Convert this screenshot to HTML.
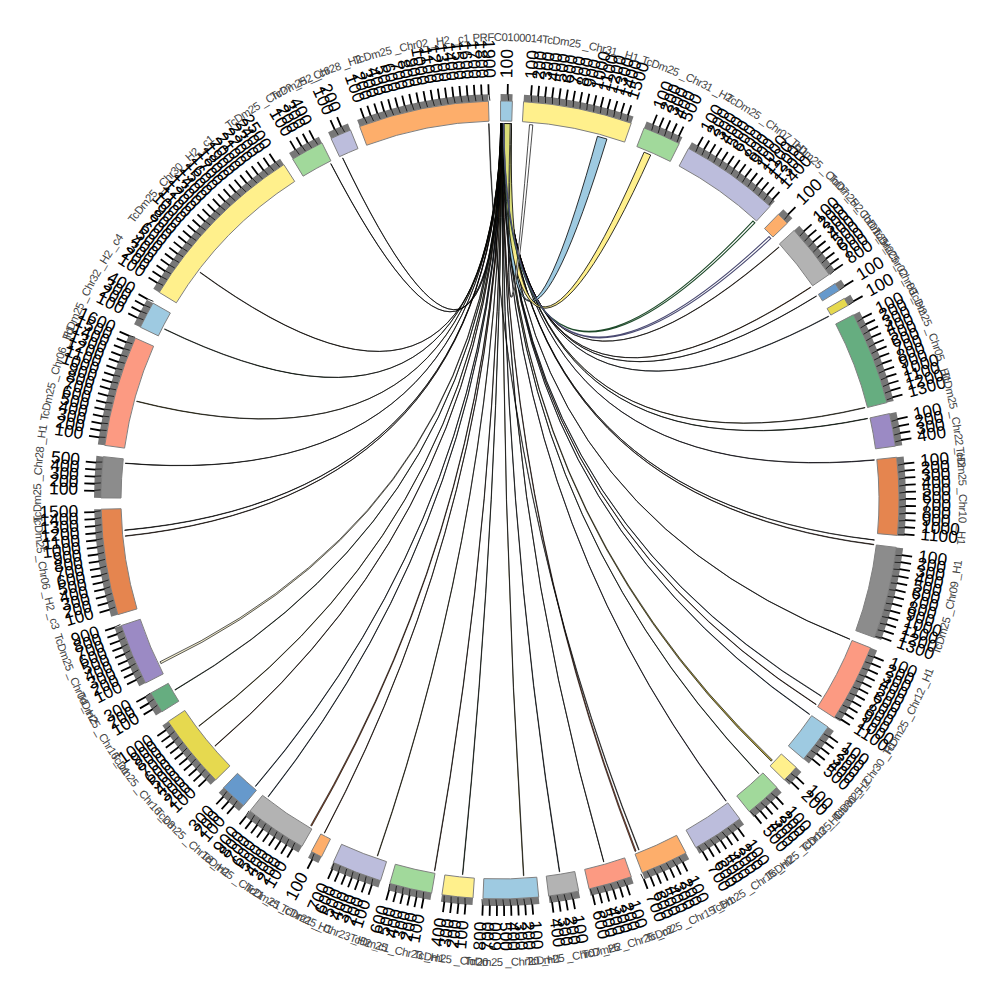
<!DOCTYPE html>
<html><head><meta charset="utf-8"><style>
html,body{margin:0;padding:0;background:#fff;width:1000px;height:1000px;overflow:hidden}
svg{display:block;font-family:"Liberation Sans",sans-serif}
</style></head><body>
<svg width="1000" height="1000" viewBox="0 0 1000 1000">
<g><path d="M500.66,123.5 Q495.15,477.74 342.81,157.88 L342.54,158.01 Q495.17,477.8 500.99,123.5 Z" fill="#222" stroke="#000" stroke-width="0.65"/>
<path d="M500.73,123.5 Q494.99,478.76 330.96,163.58 L330.7,163.71 Q494.99,478.78 501.06,123.5 Z" fill="#222" stroke="#000" stroke-width="0.65"/>
<path d="M500.81,123.5 Q492.89,485.64 200.24,272.2 L199.98,272.54 Q492.9,485.66 501.14,123.5 Z" fill="#6b4a2b" stroke="#000" stroke-width="0.65"/>
<path d="M500.89,123.5 Q492.83,488.26 164.63,328.88 L164.44,329.26 Q492.84,488.28 501.22,123.5 Z" fill="#2e6b3a" stroke="#000" stroke-width="0.65"/>
<path d="M500.97,123.5 Q493.25,491.15 136.73,401.08 L136.62,401.49 Q493.27,491.17 501.3,123.5 Z" fill="#b0a030" stroke="#000" stroke-width="0.65"/>
<path d="M501.05,123.5 Q494.31,493.7 125.31,463.11 L125.28,463.41 Q494.33,493.73 501.37,123.5 Z" fill="#222" stroke="#000" stroke-width="0.65"/>
<path d="M501.12,123.5 Q496.27,496.54 124.7,529.98 L124.73,530.41 Q496.3,496.57 501.45,123.5 Z" fill="#222" stroke="#000" stroke-width="0.65"/>
<path d="M501.2,123.5 Q496.47,496.78 125.21,535.87 L125.25,536.3 Q496.49,496.8 501.53,123.5 Z" fill="#8b4a2b" stroke="#000" stroke-width="0.65"/>
<path d="M501.28,123.5 Q500,500 160.01,661.75 L160.91,663.61 Q500,500 501.61,123.5 Z" fill="#f4efd0" stroke="#000" stroke-width="0.65"/>
<path d="M501.36,123.5 Q500,500 174.82,689.77 L175.04,690.14 Q500,500 501.69,123.5 Z" fill="#2e6b3a" stroke="#000" stroke-width="0.65"/>
<path d="M501.44,123.5 Q500,500 198.79,725.89 L199.05,726.23 Q500,500 501.76,123.5 Z" fill="#b0a030" stroke="#000" stroke-width="0.65"/>
<path d="M501.51,123.5 Q500,500 214.85,745.85 L215.13,746.17 Q500,500 501.84,123.5 Z" fill="#8b4a2b" stroke="#000" stroke-width="0.65"/>
<path d="M501.59,123.5 Q500,500 255.32,786.15 L255.65,786.43 Q500,500 501.92,123.5 Z" fill="#3a6ea5" stroke="#000" stroke-width="0.65"/>
<path d="M501.67,123.5 Q500,500 268.04,796.55 L268.37,796.82 Q500,500 502,123.51 Z" fill="#3a6ea5" stroke="#000" stroke-width="0.65"/>
<path d="M501.75,123.5 Q500,500 310.68,825.44 L311.68,826.02 Q500,500 502.08,123.51 Z" fill="#b05a30" stroke="#000" stroke-width="0.65"/>
<path d="M501.82,123.5 Q500,500 324.22,832.95 L324.59,833.14 Q500,500 502.15,123.51 Z" fill="#b05a30" stroke="#000" stroke-width="0.65"/>
<path d="M501.9,123.5 Q500,500 377.22,855.92 L377.63,856.06 Q500,500 502.23,123.51 Z" fill="#b0a030" stroke="#000" stroke-width="0.65"/>
<path d="M501.98,123.51 Q500,500 434.41,870.74 L434.83,870.82 Q500,500 502.31,123.51 Z" fill="#8b4a2b" stroke="#000" stroke-width="0.65"/>
<path d="M502.06,123.51 Q500,500 462.39,874.62 L462.82,874.66 Q500,500 502.39,123.51 Z" fill="#2e6b3a" stroke="#000" stroke-width="0.65"/>
<path d="M502.14,123.51 Q500,500 523.43,875.77 L523.85,875.74 Q500,500 502.46,123.51 Z" fill="#b0a030" stroke="#000" stroke-width="0.65"/>
<path d="M502.21,123.51 Q500,500 559.3,871.8 L559.79,871.72 Q500,500 502.54,123.51 Z" fill="#1a3a5a" stroke="#000" stroke-width="0.65"/>
<path d="M502.29,123.51 Q500,500 603.64,861.96 L603.92,861.87 Q500,500 502.62,123.51 Z" fill="#222" stroke="#000" stroke-width="0.65"/>
<path d="M502.37,123.51 Q500,500 635,851.46 L636.08,851.05 Q500,500 502.7,123.51 Z" fill="#c06040" stroke="#000" stroke-width="0.65"/>
<path d="M502.45,123.51 Q500,500 725.89,801.21 L726.23,800.95 Q500,500 502.78,123.51 Z" fill="#5a4a8a" stroke="#000" stroke-width="0.65"/>
<path d="M502.52,123.51 Q500,500 758.56,773.68 L758.82,773.43 Q500,500 502.85,123.51 Z" fill="#2e6b3a" stroke="#000" stroke-width="0.65"/>
<path d="M502.6,123.51 Q500,500 771.14,761.22 L772.34,759.96 Q500,500 502.93,123.51 Z" fill="#b0a040" stroke="#000" stroke-width="0.65"/>
<path d="M502.68,123.51 Q500,500 809.42,714.51 L809.66,714.16 Q500,500 503.01,123.51 Z" fill="#3a6ea5" stroke="#000" stroke-width="0.65"/>
<path d="M502.76,123.51 Q500,500 816,704.68 L816.23,704.33 Q500,500 503.09,123.51 Z" fill="#8b4a2b" stroke="#000" stroke-width="0.65"/>
<path d="M502.84,123.51 Q500,500 821.25,696.34 L821.47,695.98 Q500,500 503.16,123.51 Z" fill="#3a6ea5" stroke="#000" stroke-width="0.65"/>
<path d="M502.91,123.51 Q500,500 849.76,639.35 L849.87,639.07 Q500,500 503.24,123.51 Z" fill="#222" stroke="#000" stroke-width="0.65"/>
<path d="M502.99,123.51 Q503.41,497 873.82,544.82 L873.88,544.33 Q503.44,496.97 503.32,123.51 Z" fill="#8b4a2b" stroke="#000" stroke-width="0.65"/>
<path d="M503.07,123.51 Q503.57,496.82 874.35,540.16 L874.38,539.86 Q503.59,496.8 503.4,123.52 Z" fill="#222" stroke="#000" stroke-width="0.65"/>
<path d="M503.15,123.51 Q505.94,493.45 874.39,460.2 L874.35,459.78 Q505.97,493.42 503.48,123.52 Z" fill="#6a5a9a" stroke="#000" stroke-width="0.65"/>
<path d="M503.23,123.51 Q506.71,491.72 867.62,418.72 L867.53,418.3 Q506.72,491.7 503.55,123.52 Z" fill="#2e6b3a" stroke="#000" stroke-width="0.65"/>
<path d="M503.3,123.51 Q506.82,491.32 865.05,407.85 L864.94,407.43 Q506.84,491.3 503.63,123.52 Z" fill="#a89a3a" stroke="#000" stroke-width="0.65"/>
<path d="M503.38,123.52 Q507.33,487.64 828.76,316.51 L828.55,316.13 Q507.34,487.61 503.71,123.52 Z" fill="#3a6ea5" stroke="#000" stroke-width="0.65"/>
<path d="M503.46,123.52 Q507.33,486.71 816.55,296.17 L816.39,295.92 Q507.34,486.69 503.79,123.52 Z" fill="#222" stroke="#000" stroke-width="0.65"/>
<path d="M503.54,123.52 Q507.31,486.29 810.78,287.47 L810.53,287.11 Q507.32,486.27 503.86,123.52 Z" fill="#b06a30" stroke="#000" stroke-width="0.65"/>
<path d="M503.61,123.52 Q507.08,484.25 779.06,247.26 L778.77,246.94 Q507.09,484.22 503.94,123.52 Z" fill="#8b5a2b" stroke="#000" stroke-width="0.65"/>
<path d="M503.94,123.52 Q504.23,471.89 606.93,139 L597.45,136.33 Q504.24,471.19 511.5,123.68 Z" fill="#9ecae1" stroke="#000" stroke-width="0.8"/>
<radialGradient id="yg" gradientUnits="userSpaceOnUse" cx="506" cy="123" r="220"><stop offset="0" stop-color="#d9dc78"/><stop offset="0.5" stop-color="#d9dc78"/><stop offset="0.62" stop-color="#fff08c"/></radialGradient>
<path d="M503.94,123.52 Q505.01,476.62 650.73,154.99 L644.08,152.16 Q505.32,475.22 511.5,123.68 Z" fill="url(#yg)" stroke="#000" stroke-width="0.8"/>
<path d="M529.54,124.66 Q501.61,470.23 511.17,123.67 L510.18,123.64 Q501.7,470.28 532.81,124.93 Z" fill="#ffffff" stroke="#000" stroke-width="0.7"/>
<path d="M503.29,123.51 Q506.77,482.87 754.84,222.86 L752.9,221.09 Q506.75,482.75 503.68,123.52 Z" fill="#ffffff" stroke="#1e4a2a" stroke-width="1.1"/>
<path d="M503.42,123.52 Q506.98,483.77 770.83,238.46 L769,236.58 Q506.97,483.65 503.81,123.52 Z" fill="#ffffff" stroke="#4a4a72" stroke-width="1.1"/>
<path d="M488.5,123.68 Q500,500 638.6,850.06 L639.21,849.82 Q500,500 489.16,123.66 Z" fill="#333" stroke="#000" stroke-width="0.5"/></g>
<g><path d="M500.56,101 A399,399 0 0 1 512.39,101.19 L511.77,121.18 A379,379 0 0 0 500.53,121 Z" fill="#9ecae1" stroke="#808080" stroke-width="1"/>
<path d="M500.57,94 A406,406 0 0 1 512.61,94.2 L512.39,101.19 A399,399 0 0 0 500.56,101 Z" fill="#777777"/>
<path d="M523.59,101.7 A399,399 0 0 1 631.22,123.19 L624.64,142.08 A379,379 0 0 0 522.41,121.66 Z" fill="#fff08c" stroke="#808080" stroke-width="1"/>
<path d="M524.01,94.71 A406,406 0 0 1 633.52,116.58 L631.22,123.19 A399,399 0 0 0 523.59,101.7 Z" fill="#777777"/>
<path d="M644.09,127.93 A399,399 0 0 1 679.28,143.54 L670.29,161.41 A379,379 0 0 0 636.87,146.58 Z" fill="#a1d99b" stroke="#808080" stroke-width="1"/>
<path d="M646.62,121.4 A406,406 0 0 1 682.42,137.29 L679.28,143.54 A399,399 0 0 0 644.09,127.93 Z" fill="#777777"/>
<path d="M688.55,148.36 A399,399 0 0 1 770.07,206.3 L756.54,221.02 A379,379 0 0 0 679.1,165.99 Z" fill="#bcbddc" stroke="#808080" stroke-width="1"/>
<path d="M691.86,142.19 A406,406 0 0 1 774.81,201.14 L770.07,206.3 A399,399 0 0 0 688.55,148.36 Z" fill="#777777"/>
<path d="M778.42,214.2 A399,399 0 0 1 787.35,223.18 L772.95,237.06 A379,379 0 0 0 764.46,228.52 Z" fill="#fdae6b" stroke="#808080" stroke-width="1"/>
<path d="M783.3,209.18 A406,406 0 0 1 792.4,218.33 L787.35,223.18 A399,399 0 0 0 778.42,214.2 Z" fill="#777777"/>
<path d="M794.17,230.44 A399,399 0 0 1 829.14,274.46 L812.64,285.77 A379,379 0 0 0 779.43,243.95 Z" fill="#b3b3b3" stroke="#808080" stroke-width="1"/>
<path d="M799.33,225.71 A406,406 0 0 1 834.92,270.51 L829.14,274.46 A399,399 0 0 0 794.17,230.44 Z" fill="#777777"/>
<path d="M835.16,283.51 A399,399 0 0 1 839.47,290.34 L822.46,300.85 A379,379 0 0 0 818.36,294.36 Z" fill="#6699cc" stroke="#808080" stroke-width="1"/>
<path d="M841.04,279.71 A406,406 0 0 1 845.43,286.66 L839.47,290.34 A399,399 0 0 0 835.16,283.51 Z" fill="#777777"/>
<path d="M844.32,298.39 A399,399 0 0 1 848.3,305.34 L830.84,315.1 A379,379 0 0 0 827.06,308.5 Z" fill="#e6d94f" stroke="#808080" stroke-width="1"/>
<path d="M850.36,294.86 A406,406 0 0 1 854.41,301.93 L848.3,305.34 A399,399 0 0 0 844.32,298.39 Z" fill="#777777"/>
<path d="M853.4,314.77 A399,399 0 0 1 886.93,402.6 L867.53,407.48 A379,379 0 0 0 835.69,324.06 Z" fill="#66ad80" stroke="#808080" stroke-width="1"/>
<path d="M859.6,311.53 A406,406 0 0 1 893.72,400.89 L886.93,402.6 A399,399 0 0 0 853.4,314.77 Z" fill="#777777"/>
<path d="M889.53,413.57 A399,399 0 0 1 895.35,446.13 L875.53,448.83 A379,379 0 0 0 870,417.9 Z" fill="#9b8ac4" stroke="#808080" stroke-width="1"/>
<path d="M896.36,412.06 A406,406 0 0 1 902.28,445.18 L895.35,446.13 A399,399 0 0 0 889.53,413.57 Z" fill="#777777"/>
<path d="M896.7,457.25 A399,399 0 0 1 897.43,535.4 L877.51,533.63 A379,379 0 0 0 876.82,459.4 Z" fill="#e5854f" stroke="#808080" stroke-width="1"/>
<path d="M903.66,456.5 A406,406 0 0 1 904.4,536.02 L897.43,535.4 A399,399 0 0 0 896.7,457.25 Z" fill="#777777"/>
<path d="M896.18,547.38 A399,399 0 0 1 874.55,637.51 L855.78,630.62 A379,379 0 0 0 876.32,545.01 Z" fill="#8c8c8c" stroke="#808080" stroke-width="1"/>
<path d="M903.13,548.21 A406,406 0 0 1 881.13,639.93 L874.55,637.51 A399,399 0 0 0 896.18,547.38 Z" fill="#777777"/>
<path d="M870.6,647.85 A399,399 0 0 1 834.36,717.72 L817.6,706.81 A379,379 0 0 0 852.02,640.44 Z" fill="#fc9a82" stroke="#808080" stroke-width="1"/>
<path d="M877.1,650.45 A406,406 0 0 1 840.23,721.54 L834.36,717.72 A399,399 0 0 0 870.6,647.85 Z" fill="#777777"/>
<path d="M828.11,727.03 A399,399 0 0 1 803.58,758.92 L788.37,745.94 A379,379 0 0 0 811.67,715.65 Z" fill="#9ecae1" stroke="#808080" stroke-width="1"/>
<path d="M833.87,731.01 A406,406 0 0 1 808.91,763.46 L803.58,758.92 A399,399 0 0 0 828.11,727.03 Z" fill="#777777"/>
<path d="M796.19,767.35 A399,399 0 0 1 784.34,779.91 L770.09,765.88 A379,379 0 0 0 781.34,753.94 Z" fill="#fff08c" stroke="#808080" stroke-width="1"/>
<path d="M801.38,772.04 A406,406 0 0 1 789.33,784.82 L784.34,779.91 A399,399 0 0 0 796.19,767.35 Z" fill="#777777"/>
<path d="M776.82,787.35 A399,399 0 0 1 749.25,811.57 L736.76,795.95 A379,379 0 0 0 762.94,772.95 Z" fill="#a1d99b" stroke="#808080" stroke-width="1"/>
<path d="M781.67,792.4 A406,406 0 0 1 753.63,817.03 L749.25,811.57 A399,399 0 0 0 776.82,787.35 Z" fill="#777777"/>
<path d="M739.85,818.86 A399,399 0 0 1 695.87,847.61 L686.05,830.19 A379,379 0 0 0 727.82,802.88 Z" fill="#bcbddc" stroke="#808080" stroke-width="1"/>
<path d="M744.05,824.46 A406,406 0 0 1 699.31,853.71 L695.87,847.61 A399,399 0 0 0 739.85,818.86 Z" fill="#777777"/>
<path d="M685.97,853.01 A399,399 0 0 1 642.21,872.8 L635.08,854.11 A379,379 0 0 0 676.64,835.32 Z" fill="#fdae6b" stroke="#808080" stroke-width="1"/>
<path d="M689.23,859.21 A406,406 0 0 1 644.7,879.34 L642.21,872.8 A399,399 0 0 0 685.97,853.01 Z" fill="#777777"/>
<path d="M631.28,876.78 A399,399 0 0 1 589.14,888.91 L584.68,869.42 A379,379 0 0 0 624.7,857.9 Z" fill="#fc9a82" stroke="#808080" stroke-width="1"/>
<path d="M633.59,883.39 A406,406 0 0 1 590.71,895.74 L589.14,888.91 A399,399 0 0 0 631.28,876.78 Z" fill="#777777"/>
<path d="M578.73,891.16 A399,399 0 0 1 548.69,896.02 L546.25,876.17 A379,379 0 0 0 574.78,871.55 Z" fill="#b3b3b3" stroke="#808080" stroke-width="1"/>
<path d="M580.11,898.02 A406,406 0 0 1 549.55,902.97 L548.69,896.02 A399,399 0 0 0 578.73,891.16 Z" fill="#777777"/>
<path d="M538.73,897.12 A399,399 0 0 1 482.94,898.64 L483.8,878.65 A379,379 0 0 0 536.79,877.21 Z" fill="#9ecae1" stroke="#808080" stroke-width="1"/>
<path d="M539.41,904.08 A406,406 0 0 1 482.64,905.63 L482.94,898.64 A399,399 0 0 0 538.73,897.12 Z" fill="#777777"/>
<path d="M473,898.09 A399,399 0 0 1 441.92,894.75 L444.83,874.96 A379,379 0 0 0 474.35,878.13 Z" fill="#fff08c" stroke="#808080" stroke-width="1"/>
<path d="M472.53,905.07 A406,406 0 0 1 440.9,901.68 L441.92,894.75 A399,399 0 0 0 473,898.09 Z" fill="#777777"/>
<path d="M431.61,893.09 A399,399 0 0 1 389.82,883.49 L395.34,864.26 A379,379 0 0 0 435.03,873.39 Z" fill="#a1d99b" stroke="#808080" stroke-width="1"/>
<path d="M430.41,899.99 A406,406 0 0 1 387.89,890.21 L389.82,883.49 A399,399 0 0 0 431.61,893.09 Z" fill="#777777"/>
<path d="M380.55,880.7 A399,399 0 0 1 333.21,862.47 L341.57,844.3 A379,379 0 0 0 386.54,861.62 Z" fill="#bcbddc" stroke="#808080" stroke-width="1"/>
<path d="M378.45,887.38 A406,406 0 0 1 330.28,868.82 L333.21,862.47 A399,399 0 0 0 380.55,880.7 Z" fill="#777777"/>
<path d="M321.53,856.86 A399,399 0 0 1 311.33,851.57 L320.79,833.95 A379,379 0 0 0 330.48,838.97 Z" fill="#fdae6b" stroke="#808080" stroke-width="1"/>
<path d="M318.4,863.12 A406,406 0 0 1 308.02,857.74 L311.33,851.57 A399,399 0 0 0 321.53,856.86 Z" fill="#777777"/>
<path d="M301.95,846.38 A399,399 0 0 1 249.99,810.96 L262.52,795.37 A379,379 0 0 0 311.88,829.01 Z" fill="#b3b3b3" stroke="#808080" stroke-width="1"/>
<path d="M298.47,852.45 A406,406 0 0 1 245.6,816.41 L249.99,810.96 A399,399 0 0 0 301.95,846.38 Z" fill="#777777"/>
<path d="M243.53,805.65 A399,399 0 0 1 223.58,787.74 L237.44,773.32 A379,379 0 0 0 256.38,790.33 Z" fill="#6699cc" stroke="#808080" stroke-width="1"/>
<path d="M239.03,811.01 A406,406 0 0 1 218.73,792.79 L223.58,787.74 A399,399 0 0 0 243.53,805.65 Z" fill="#777777"/>
<path d="M215.66,779.91 A399,399 0 0 1 168.17,721.56 L184.8,710.45 A379,379 0 0 0 229.91,765.88 Z" fill="#e6d94f" stroke="#808080" stroke-width="1"/>
<path d="M210.67,784.82 A406,406 0 0 1 162.34,725.44 L168.17,721.56 A399,399 0 0 0 215.66,779.91 Z" fill="#777777"/>
<path d="M161.85,711.79 A399,399 0 0 1 150.79,693.01 L168.29,683.34 A379,379 0 0 0 178.8,701.18 Z" fill="#66ad80" stroke="#808080" stroke-width="1"/>
<path d="M155.92,715.51 A406,406 0 0 1 144.66,696.4 L150.79,693.01 A399,399 0 0 0 161.85,711.79 Z" fill="#777777"/>
<path d="M145.47,683.06 A399,399 0 0 1 121.27,625.55 L140.25,619.25 A379,379 0 0 0 163.24,673.89 Z" fill="#9b8ac4" stroke="#808080" stroke-width="1"/>
<path d="M139.25,686.27 A406,406 0 0 1 114.62,627.75 L121.27,625.55 A399,399 0 0 0 145.47,683.06 Z" fill="#777777"/>
<path d="M117.83,614.66 A399,399 0 0 1 101.11,509.19 L121.1,508.73 A379,379 0 0 0 136.99,608.91 Z" fill="#e5854f" stroke="#808080" stroke-width="1"/>
<path d="M111.12,616.67 A406,406 0 0 1 94.11,509.35 L101.11,509.19 A399,399 0 0 0 117.83,614.66 Z" fill="#777777"/>
<path d="M101.01,497.91 A399,399 0 0 1 103.36,456.63 L123.25,458.81 A379,379 0 0 0 121.01,498.02 Z" fill="#8c8c8c" stroke="#808080" stroke-width="1"/>
<path d="M94.01,497.87 A406,406 0 0 1 96.41,455.87 L103.36,456.63 A399,399 0 0 0 101.01,497.91 Z" fill="#777777"/>
<path d="M104.76,445.37 A399,399 0 0 1 135.33,338.09 L153.61,346.21 A379,379 0 0 0 124.57,448.11 Z" fill="#fc9a82" stroke="#808080" stroke-width="1"/>
<path d="M97.82,444.41 A406,406 0 0 1 128.93,335.25 L135.33,338.09 A399,399 0 0 0 104.76,445.37 Z" fill="#777777"/>
<path d="M140.35,327.22 A399,399 0 0 1 152.97,303.1 L170.36,312.97 A379,379 0 0 0 158.38,335.88 Z" fill="#9ecae1" stroke="#808080" stroke-width="1"/>
<path d="M134.04,324.19 A406,406 0 0 1 146.88,299.64 L152.97,303.1 A399,399 0 0 0 140.35,327.22 Z" fill="#777777"/>
<path d="M159.25,292.41 A399,399 0 0 1 283.86,164.61 L294.69,181.43 A379,379 0 0 0 176.33,302.82 Z" fill="#fff08c" stroke="#808080" stroke-width="1"/>
<path d="M153.27,288.77 A406,406 0 0 1 280.07,158.73 L283.86,164.61 A399,399 0 0 0 159.25,292.41 Z" fill="#777777"/>
<path d="M292.71,159.07 A399,399 0 0 1 321.97,142.92 L330.89,160.82 A379,379 0 0 0 303.1,176.16 Z" fill="#a1d99b" stroke="#808080" stroke-width="1"/>
<path d="M289.08,153.09 A406,406 0 0 1 318.84,136.66 L321.97,142.92 A399,399 0 0 0 292.71,159.07 Z" fill="#777777"/>
<path d="M331.06,138.53 A399,399 0 0 1 350.53,130.05 L358.02,148.6 A379,379 0 0 0 339.53,156.65 Z" fill="#bcbddc" stroke="#808080" stroke-width="1"/>
<path d="M328.1,132.19 A406,406 0 0 1 347.91,123.56 L350.53,130.05 A399,399 0 0 0 331.06,138.53 Z" fill="#777777"/>
<path d="M359.62,126.51 A399,399 0 0 1 488.44,101.17 L489.02,121.16 A379,379 0 0 0 366.65,145.23 Z" fill="#fdae6b" stroke="#808080" stroke-width="1"/>
<path d="M357.15,119.96 A406,406 0 0 1 488.24,94.17 L488.44,101.17 A399,399 0 0 0 359.62,126.51 Z" fill="#777777"/></g>
<path d="M507.64,94.57L507.84,84.07M531.04,95.69L531.84,85.22M538.09,96.29L539.08,85.84M545.13,97.02L546.3,86.58M552.16,97.87L553.51,87.46M559.17,98.84L560.7,88.45M566.16,99.93L567.87,89.57M573.13,101.15L575.02,90.82M580.08,102.49L582.15,92.19M587.01,103.94L589.26,93.69M593.9,105.52L596.34,95.31M600.78,107.22L603.38,97.05M607.61,109.04L610.4,98.92M614.42,110.98L617.38,100.9M621.19,113.03L624.33,103.01M627.93,115.21L631.24,105.24M653.02,124.48L656.98,114.76M659.55,127.21L663.68,117.55M666.03,130.05L670.33,120.47M672.46,133L676.93,123.5M678.84,136.07L683.47,126.64M697.83,146.03L702.95,136.86M703.97,149.54L709.26,140.46M710.06,153.15L715.5,144.17M716.08,156.87L721.68,147.98M722.04,160.69L727.79,151.91M727.92,164.62L733.83,155.93M733.74,168.65L739.8,160.07M739.49,172.78L745.69,164.3M745.16,177.01L751.51,168.64M750.76,181.34L757.26,173.08M756.29,185.76L762.92,177.62M761.73,190.28L768.51,182.26M767.1,194.9L774.01,187M772.38,199.6L779.44,191.83M787.98,214.52L795.44,207.13M803.7,231.31L811.57,224.35M808.34,236.65L816.33,229.83M812.89,242.07L821,235.39M817.35,247.57L825.56,241.03M821.7,253.15L830.03,246.76M825.96,258.8L834.4,252.55M830.12,264.52L838.67,258.43M834.18,270.32L842.84,264.38M844.41,285.96L853.33,280.42M853.45,301.25L862.6,296.1M862.39,318.05L871.77,313.34M865.51,324.41L874.97,319.86M868.52,330.81L878.06,326.43M871.41,337.27L881.03,333.06M874.2,343.78L883.89,339.73M876.87,350.33L886.63,346.46M879.42,356.93L889.25,353.23M881.86,363.57L891.75,360.04M884.18,370.26L894.13,366.9M886.39,376.98L896.4,373.8M888.48,383.75L898.54,380.74M890.45,390.54L900.56,387.71M892.3,397.38L902.46,394.72M897.35,419.09L907.63,416.99M898.7,426.03L909.02,424.12M899.93,433L910.28,431.27M901.04,439.99L911.42,438.44M903.86,463.6L914.32,462.66M904.44,470.65L914.91,469.89M904.89,477.72L915.37,477.14M905.21,484.79L915.71,484.39M905.42,491.86L915.92,491.65M905.5,498.94L916,498.91M905.46,506.02L915.95,506.17M905.29,513.09L915.78,513.43M905,520.16L915.49,520.68M904.58,527.23L915.06,527.93M904.05,534.28L914.51,535.17M901.73,555.17L912.13,556.6M900.7,562.18L911.08,563.79M899.56,569.16L909.9,570.95M898.29,576.12L908.6,578.09M896.9,583.06L907.18,585.21M895.39,589.98L905.63,592.31M893.76,596.86L903.96,599.37M892.01,603.72L902.16,606.41M890.14,610.55L900.24,613.41M888.15,617.34L898.2,620.38M886.05,624.09L896.04,627.31M883.82,630.81L893.76,634.2M881.48,637.49L891.36,641.05M873.95,656.81L883.64,660.87M871.16,663.31L880.77,667.54M868.25,669.77L877.79,674.16M865.23,676.17L874.69,680.73M862.1,682.51L871.48,687.24M858.86,688.81L868.15,693.7M855.51,695.04L864.72,700.09M852.05,701.22L861.17,706.43M848.49,707.33L857.51,712.7M844.82,713.38L853.75,718.9M841.04,719.37L849.87,725.05M829.38,736.51L837.91,742.64M825.2,742.22L833.63,748.5M820.93,747.86L829.24,754.28M816.55,753.43L824.75,759.99M812.08,758.91L820.16,765.62M796.23,776.91L803.9,784.08M791.35,782.04L798.89,789.34M776.19,796.9L783.34,804.59M770.96,801.68L777.98,809.49M765.66,806.36L772.54,814.29M760.27,810.95L767.01,819M754.8,815.44L761.4,823.61M738.06,828.26L744.22,836.76M732.3,832.37L738.31,840.98M726.46,836.37L732.32,845.08M720.55,840.27L726.27,849.08M714.58,844.07L720.14,852.98M708.54,847.76L713.94,856.77M702.44,851.35L707.69,860.45M682.7,862.01L687.44,871.38M676.36,865.14L680.93,874.6M669.96,868.16L674.36,877.7M663.51,871.07L667.74,880.68M657.01,873.87L661.07,883.55M650.46,876.55L654.35,886.3M643.86,879.12L647.59,888.94M626.72,885.19L630,895.17M619.98,887.34L623.08,897.37M613.2,889.38L616.13,899.46M606.39,891.3L609.14,901.43M599.54,893.09L602.12,903.27M592.67,894.77L595.06,904.99M573.06,898.86L574.95,909.19M566.09,900.08L567.8,910.44M559.1,901.17L560.63,911.56M552.09,902.14L553.43,912.55M532.31,904.21L533.15,914.68M525.25,904.71L525.9,915.19M518.18,905.09L518.65,915.58M511.11,905.35L511.4,915.84M504.03,905.48L504.14,915.98M496.96,905.49L496.88,915.99M489.88,905.37L489.62,915.87M482.81,905.14L482.36,915.63M465.5,904.03L464.61,914.49M458.46,903.37L457.38,913.81M451.43,902.58L450.17,913M444.41,901.67L442.97,912.07M423.53,898.22L421.55,908.54M416.59,896.83L414.43,907.1M409.68,895.31L407.34,905.55M402.79,893.68L400.28,903.87M395.94,891.92L393.24,902.07M389.11,890.04L386.24,900.14M371.87,884.72L368.55,894.69M365.18,882.43L361.68,892.33M358.52,880.02L354.86,889.86M351.91,877.49L348.08,887.27M345.35,874.85L341.34,884.56M338.83,872.09L334.65,881.73M332.36,869.22L328.02,878.78M312.32,859.45L307.46,868.76M292.61,848.45L287.24,857.48M286.56,844.78L281.03,853.71M280.58,841L274.89,849.83M274.66,837.12L268.82,845.85M268.81,833.14L262.82,841.76M263.03,829.05L256.89,837.57M257.32,824.87L251.04,833.28M251.69,820.58L245.26,828.88M246.13,816.2L239.56,824.39M233.97,806.03L227.08,813.96M228.67,801.35L221.64,809.15M223.45,796.56L216.29,804.24M206.1,779.38L198.49,786.62M201.27,774.21L193.54,781.31M196.53,768.96L188.68,775.92M191.89,763.62L183.91,770.45M187.33,758.2L179.24,764.89M182.87,752.71L174.66,759.25M178.51,747.13L170.19,753.53M174.25,741.49L165.81,747.74M170.08,735.76L161.54,741.87M166.02,729.97L157.37,735.92M152.64,709.21L143.64,714.63M149.04,703.12L139.95,708.38M145.55,696.96L136.37,702.06M136.51,679.73L127.09,684.38M133.42,673.36L123.93,677.85M130.46,666.93L120.89,671.26M127.6,660.46L117.96,664.61M124.85,653.93L115.14,657.92M122.22,647.36L112.44,651.18M119.71,640.75L109.86,644.39M117.31,634.09L107.4,637.56M115.03,627.39L105.06,630.69M109.63,609.73L99.52,612.57M107.77,602.9L97.62,605.56M106.04,596.04L95.84,598.52M104.42,589.15L94.18,591.46M102.93,582.23L92.64,584.36M101.55,575.29L91.23,577.24M100.3,568.32L89.95,570.09M99.17,561.34L88.79,562.92M98.16,554.33L87.75,555.74M97.27,547.31L86.84,548.54M96.5,540.27L86.06,541.32M95.86,533.23L85.4,534.09M95.35,526.17L84.87,526.85M94.95,519.1L84.46,519.6M94.68,512.03L84.18,512.34M94.6,490.8L84.11,490.56M94.83,483.73L84.34,483.31M95.17,476.66L84.69,476.05M95.64,469.6L85.17,468.81M96.23,462.54L85.78,461.57M99.35,437.47L88.98,435.86M100.5,430.49L90.16,428.69M101.78,423.53L91.46,421.55M103.17,416.59L92.9,414.43M104.69,409.68L94.45,407.34M106.32,402.79L96.13,400.28M108.08,395.94L97.93,393.24M109.96,389.11L99.86,386.24M111.95,382.32L101.9,379.28M114.06,375.57L104.07,372.35M116.29,368.85L106.36,365.46M118.64,362.18L108.77,358.61M121.1,355.54L111.29,351.8M123.68,348.95L113.94,345.04M126.38,342.41L116.7,338.33M129.18,335.91L119.58,331.66M137.61,318.05L128.23,313.34M140.84,311.76L131.54,306.88M144.18,305.52L134.97,300.48M147.63,299.34L138.51,294.14M157.44,283.02L148.57,277.4M161.27,277.08L152.5,271.3M165.22,271.2L156.55,265.27M169.26,265.39L160.7,259.32M173.41,259.65L164.95,253.43M177.65,253.99L169.3,247.62M181.99,248.4L173.76,241.89M186.43,242.89L178.31,236.23M190.97,237.46L182.96,230.66M195.6,232.1L187.71,225.17M200.32,226.83L192.56,219.76M205.13,221.64L197.5,214.44M210.03,216.54L202.53,209.2M215.03,211.52L207.65,204.05M220.1,206.59L212.86,198.99M225.27,201.75L218.15,194.03M230.51,197L223.54,189.16M235.84,192.35L229,184.38M241.25,187.78L234.55,179.7M246.74,183.31L240.18,175.11M252.31,178.94L245.89,170.63M257.95,174.67L251.68,166.24M263.66,170.49L257.54,161.96M269.45,166.42L263.48,157.78M275.31,162.45L269.49,153.71M295.41,149.89L290.12,140.83M301.56,146.38L296.42,137.22M307.76,142.97L302.78,133.72M314.02,139.67L309.2,130.34M334.75,129.7L330.47,120.11M341.23,126.87L337.12,117.21M363.97,118L360.45,108.1M370.66,115.68L367.31,105.73M377.39,113.48L374.21,103.47M384.15,111.4L381.15,101.34M390.95,109.44L388.13,99.32M397.79,107.59L395.14,97.43M404.65,105.87L402.18,95.66M411.54,104.27L409.25,94.02M418.46,102.78L416.35,92.5M425.41,101.42L423.48,91.1M432.38,100.18L430.62,89.83M439.36,99.06L437.79,88.68M446.37,98.06L444.98,87.65M453.39,97.19L452.19,86.76M460.43,96.44L459.41,85.99M467.48,95.81L466.64,85.34M474.54,95.3L473.88,84.82M481.61,94.92L481.13,84.43M488.68,94.66L488.38,84.16" stroke="#000" stroke-width="1.8" fill="none"/><path d="M508.58,100.59L508.01,94.08M531.62,101.75L531.43,95.22M538.57,102.37L538.49,95.83M545.5,103.1L545.54,96.56M552.42,103.95L552.57,97.42M559.33,104.93L559.59,98.4M566.21,106.03L566.59,99.5M573.08,107.24L573.57,100.72M579.92,108.58L580.53,102.07M586.74,110.03L587.46,103.53M593.53,111.6L594.37,105.12M600.3,113.29L601.24,106.83M607.03,115.1L608.09,108.65M613.73,117.03L614.9,110.6M620.4,119.07L621.68,112.66M627.03,121.23L628.42,114.85M651.72,130.43L653.53,124.15M658.15,133.14L660.07,126.89M664.53,135.95L666.56,129.74M670.86,138.88L672.99,132.7M677.13,141.92L679.38,135.78M695.81,151.78L698.38,145.77M701.86,155.25L704.53,149.28M707.85,158.82L710.62,152.91M713.77,162.5L716.65,156.63M719.63,166.29L722.61,160.47M725.42,170.17L728.5,164.4M731.14,174.15L734.32,168.44M736.79,178.24L740.07,172.58M742.37,182.42L745.75,176.82M747.88,186.7L751.35,181.16M753.31,191.07L756.88,185.6M758.66,195.54L762.33,190.13M763.93,200.1L767.69,194.75M769.13,204.75L772.98,199.47M784.45,219.49L788.58,214.42M799.9,236.07L804.31,231.24M804.46,241.34L808.95,236.59M808.93,246.69L813.5,242.03M813.3,252.12L817.96,247.54M817.58,257.63L822.32,253.12M821.76,263.21L826.58,258.79M825.85,268.86L830.74,264.52M829.83,274.58L834.8,270.33M839.86,290.01L845.02,286M848.73,305.1L854.06,301.31M857.5,321.68L862.99,318.15M860.55,327.95L866.11,324.51M863.5,334.27L869.12,330.93M866.34,340.64L872.01,337.39M869.06,347.05L874.8,343.91M871.68,353.52L877.46,350.48M874.18,360.03L880.02,357.09M876.56,366.58L882.45,363.74M878.83,373.17L884.77,370.44M880.99,379.8L886.97,377.17M883.03,386.47L889.06,383.94M884.95,393.17L891.02,390.75M886.76,399.91L892.87,397.59M891.67,421.31L897.91,419.33M892.99,428.16L899.25,426.29M894.18,435.03L900.48,433.27M895.25,441.92L901.58,440.27M897.98,465.18L904.39,463.91M898.53,472.13L904.96,470.97M898.95,479.09L905.41,478.04M899.26,486.06L905.73,485.12M899.44,493.03L905.93,492.21M899.5,500L906,499.29M899.44,506.97L905.95,506.38M899.26,513.94L905.78,513.46M898.95,520.91L905.48,520.54M898.53,527.87L905.06,527.61M897.98,534.82L904.52,534.68M895.64,555.39L902.18,555.59M894.61,562.29L901.14,562.6M893.47,569.17L899.99,569.59M892.2,576.02L898.72,576.56M890.81,582.86L897.32,583.51M889.31,589.66L895.8,590.43M887.68,596.44L894.16,597.33M885.94,603.2L892.4,604.19M884.08,609.92L890.53,611.02M882.1,616.6L888.53,617.82M880.01,623.25L886.41,624.58M877.8,629.87L884.18,631.31M875.48,636.44L881.83,637.99M868.01,655.46L874.28,657.33M865.24,661.85L871.47,663.84M862.36,668.2L868.56,670.3M859.37,674.5L865.53,676.7M856.27,680.75L862.39,683.06M853.06,686.94L859.14,689.35M849.75,693.07L855.78,695.59M846.33,699.15L852.31,701.77M842.8,705.16L848.74,707.89M839.16,711.11L845.06,713.94M835.43,717L841.27,719.93M823.9,733.86L829.58,737.09M819.77,739.48L825.39,742.81M815.54,745.02L821.11,748.45M811.21,750.49L816.72,754.01M806.8,755.88L812.24,759.5M791.13,773.58L796.35,777.51M786.31,778.62L791.46,782.64M771.33,793.22L776.27,797.51M766.18,797.91L771.03,802.29M760.94,802.51L765.72,806.97M755.62,807.02L760.32,811.56M750.22,811.43L754.84,816.06M733.69,824.02L738.07,828.88M728,828.05L732.29,832.98M722.24,831.98L726.44,836.98M716.41,835.81L720.53,840.89M710.52,839.53L714.55,844.68M704.56,843.15L708.5,848.37M698.54,846.67L702.39,851.96M679.07,857.12L682.61,862.61M672.81,860.19L676.26,865.75M666.49,863.15L669.85,868.77M660.13,866L663.39,871.67M653.72,868.74L656.87,874.47M647.26,871.37L650.31,877.15M640.76,873.88L643.71,879.72M623.85,879.82L626.54,885.78M617.2,881.92L619.79,887.93M610.52,883.91L613,889.96M603.8,885.78L606.18,891.87M597.05,887.53L599.32,893.66M590.28,889.17L592.43,895.34M570.95,893.15L572.8,899.42M564.08,894.33L565.82,900.63M557.19,895.39L558.82,901.72M550.28,896.32L551.8,902.68M530.79,898.31L532,904.74M523.83,898.79L524.93,905.23M516.87,899.14L517.85,905.61M509.9,899.38L510.77,905.86M502.93,899.49L503.68,905.98M495.96,899.48L496.6,905.99M488.98,899.35L489.51,905.86M482.02,899.1L482.43,905.62M464.97,897.96L465.11,904.5M458.03,897.29L458.05,903.83M451.11,896.5L451.01,903.03M444.19,895.58L443.99,902.12M423.63,892.13L423.09,898.65M416.8,890.74L416.14,897.25M410,889.23L409.22,895.72M403.22,887.6L402.33,894.08M396.47,885.85L395.47,892.31M389.75,883.99L388.64,890.43M372.77,878.7L371.38,885.09M366.18,876.42L364.67,882.78M359.64,874.03L358.01,880.36M353.13,871.52L351.4,877.83M346.67,868.9L344.83,875.18M340.25,866.17L338.3,872.41M333.89,863.33L331.83,869.53M314.17,853.65L311.78,859.73M294.78,842.76L292.05,848.7M288.83,839.13L286,845.02M282.94,835.39L280.01,841.23M277.12,831.55L274.09,837.34M271.37,827.61L268.23,833.35M265.69,823.57L262.45,829.25M260.08,819.43L256.74,825.05M254.54,815.2L251.1,820.76M249.07,810.86L245.54,816.37M237.12,800.82L233.37,806.18M231.91,796.19L228.07,801.48M226.78,791.46L222.85,796.69M209.73,774.49L205.5,779.47M204.99,769.38L200.67,774.29M200.33,764.19L195.92,769.02M195.77,758.92L191.28,763.68M191.29,753.57L186.72,758.25M186.91,748.15L182.26,752.74M182.63,742.65L177.9,747.16M178.44,737.07L173.63,741.5M174.36,731.42L169.47,735.77M170.37,725.7L165.4,729.96M157.24,705.22L152.03,709.17M153.71,699.21L148.43,703.06M150.29,693.13L144.94,696.89M141.42,676.13L135.9,679.63M138.4,669.85L132.82,673.25M135.49,663.51L129.85,666.82M132.7,657.12L127,660.33M130.01,650.69L124.26,653.8M127.44,644.21L121.63,647.22M124.98,637.68L119.12,640.59M122.63,631.12L116.72,633.92M120.4,624.51L114.44,627.21M115.12,607.1L109.05,609.52M113.31,600.36L107.2,602.68M111.62,593.6L105.47,595.81M110.05,586.81L103.86,588.91M108.59,579.99L102.36,581.98M107.25,573.15L100.99,575.03M106.04,566.28L99.74,568.06M104.94,559.39L98.62,561.06M103.96,552.49L97.61,554.05M103.11,545.57L96.73,547.02M102.37,538.64L95.97,539.97M101.76,531.69L95.34,532.91M101.27,524.74L94.82,525.85M100.9,517.77L94.43,518.77M100.65,510.81L94.17,511.69M100.63,489.89L94.11,490.43M100.87,482.92L94.34,483.35M101.22,475.96L94.69,476.28M101.7,469L95.17,469.21M102.31,462.06L95.77,462.14M105.44,437.37L98.91,437.05M106.59,430.49L100.07,430.06M107.87,423.63L101.35,423.09M109.26,416.8L102.75,416.14M110.77,410L104.28,409.22M112.4,403.22L105.92,402.33M114.15,396.47L107.69,395.47M116.01,389.75L109.57,388.64M118,383.06L111.57,381.84M120.1,376.42L113.7,375.08M122.31,369.8L115.94,368.36M124.64,363.23L118.29,361.67M127.08,356.7L120.76,355.03M129.64,350.22L123.35,348.44M132.31,343.77L126.05,341.89M135.1,337.38L128.87,335.38M143.44,319.81L137.32,317.51M146.64,313.62L140.56,311.21M149.95,307.48L143.91,304.97M153.36,301.4L147.37,298.78M163.07,285.35L157.2,282.45M166.86,279.5L161.05,276.5M170.76,273.72L165,270.62M174.76,268.01L169.06,264.81M178.86,262.37L173.21,259.07M183.06,256.8L177.47,253.41M187.35,251.31L181.82,247.81M191.74,245.89L186.27,242.3M196.22,240.55L190.82,236.86M200.79,235.28L195.45,231.51M205.46,230.1L200.19,226.23M210.21,225L205.01,221.04M215.06,219.99L209.92,215.94M219.99,215.06L214.93,210.92M225,210.21L220.01,205.99M230.1,205.46L225.19,201.14M235.28,200.79L230.45,196.39M240.55,196.22L235.79,191.74M245.89,191.74L241.21,187.17M251.31,187.35L246.7,182.7M256.8,183.06L252.28,178.33M262.37,178.86L257.93,174.06M268.01,174.76L263.66,169.88M273.72,170.76L269.46,165.81M279.5,166.86L275.32,161.83M299.34,154.55L295.47,149.28M305.4,151.1L301.62,145.77M311.52,147.75L307.83,142.36M317.7,144.52L314.1,139.06M338.15,134.76L334.86,129.1M344.54,131.99L341.36,126.28M366.97,123.3L364.14,117.41M373.57,121.03L370.84,115.09M380.2,118.89L377.58,112.9M386.87,116.85L384.35,110.82M393.57,114.94L391.16,108.86M400.31,113.14L398,107.02M407.08,111.46L404.88,105.3M413.87,109.89L411.78,103.7M420.69,108.45L418.71,102.22M427.54,107.13L425.66,100.86M434.41,105.92L432.64,99.63M441.29,104.84L439.64,98.51M448.2,103.87L446.66,97.52M455.12,103.03L453.69,96.65M462.06,102.31L460.73,95.9M469,101.7L467.79,95.28M475.96,101.22L474.86,94.78M482.92,100.87L481.94,94.4M489.89,100.63L489.02,94.15" stroke="#222" stroke-width="1" fill="none"/>
<g font-size="17.4" fill="#000"><text transform="translate(507.95,78.07) rotate(-88.92)" dy="4.4">100</text>
<text transform="translate(532.3,79.24) rotate(-85.61)" dy="4.4">100</text>
<text transform="translate(539.64,79.87) rotate(-84.61)" dy="4.4">200</text>
<text transform="translate(546.97,80.62) rotate(-83.61)" dy="4.4">300</text>
<text transform="translate(554.28,81.51) rotate(-82.61)" dy="4.4">400</text>
<text transform="translate(561.57,82.52) rotate(-81.61)" dy="4.4">500</text>
<text transform="translate(568.85,83.65) rotate(-80.61)" dy="4.4">600</text>
<text transform="translate(576.11,84.92) rotate(-79.61)" dy="4.4">700</text>
<text transform="translate(583.34,86.31) rotate(-78.61)" dy="4.4">800</text>
<text transform="translate(590.55,87.83) rotate(-77.61)" dy="4.4">900</text>
<text transform="translate(597.73,89.47) rotate(-76.61)" dy="4.4">1000</text>
<text transform="translate(604.88,91.24) rotate(-75.61)" dy="4.4">1100</text>
<text transform="translate(611.99,93.13) rotate(-74.61)" dy="4.4">1200</text>
<text transform="translate(619.08,95.15) rotate(-73.61)" dy="4.4">1300</text>
<text transform="translate(626.12,97.29) rotate(-72.61)" dy="4.4">1400</text>
<text transform="translate(633.13,99.55) rotate(-71.61)" dy="4.4">1500</text>
<text transform="translate(659.24,109.2) rotate(-67.83)" dy="4.4">100</text>
<text transform="translate(666.04,112.04) rotate(-66.83)" dy="4.4">200</text>
<text transform="translate(672.79,114.99) rotate(-65.83)" dy="4.4">300</text>
<text transform="translate(679.48,118.07) rotate(-64.83)" dy="4.4">400</text>
<text transform="translate(686.12,121.26) rotate(-63.83)" dy="4.4">500</text>
<text transform="translate(705.88,131.63) rotate(-60.8)" dy="4.4">100</text>
<text transform="translate(712.27,135.28) rotate(-59.8)" dy="4.4">200</text>
<text transform="translate(718.61,139.04) rotate(-58.8)" dy="4.4">300</text>
<text transform="translate(724.87,142.91) rotate(-57.8)" dy="4.4">400</text>
<text transform="translate(731.07,146.89) rotate(-56.8)" dy="4.4">500</text>
<text transform="translate(737.2,150.97) rotate(-55.8)" dy="4.4">600</text>
<text transform="translate(743.25,155.16) rotate(-54.8)" dy="4.4">700</text>
<text transform="translate(749.24,159.46) rotate(-53.8)" dy="4.4">800</text>
<text transform="translate(755.14,163.86) rotate(-52.8)" dy="4.4">900</text>
<text transform="translate(760.97,168.37) rotate(-51.8)" dy="4.4">1000</text>
<text transform="translate(766.72,172.97) rotate(-50.8)" dy="4.4">1100</text>
<text transform="translate(772.38,177.68) rotate(-49.8)" dy="4.4">1200</text>
<text transform="translate(777.97,182.48) rotate(-48.8)" dy="4.4">1300</text>
<text transform="translate(783.47,187.38) rotate(-47.8)" dy="4.4">1400</text>
<text transform="translate(799.7,202.91) rotate(-44.75)" dy="4.4">100</text>
<text transform="translate(816.06,220.37) rotate(-41.5)" dy="4.4">100</text>
<text transform="translate(820.89,225.93) rotate(-40.5)" dy="4.4">200</text>
<text transform="translate(825.63,231.57) rotate(-39.5)" dy="4.4">300</text>
<text transform="translate(830.26,237.3) rotate(-38.5)" dy="4.4">400</text>
<text transform="translate(834.8,243.1) rotate(-37.5)" dy="4.4">500</text>
<text transform="translate(839.23,248.98) rotate(-36.5)" dy="4.4">600</text>
<text transform="translate(843.56,254.94) rotate(-35.5)" dy="4.4">700</text>
<text transform="translate(847.78,260.98) rotate(-34.5)" dy="4.4">800</text>
<text transform="translate(858.42,277.25) rotate(-31.86)" dy="4.4">100</text>
<text transform="translate(867.83,293.16) rotate(-29.35)" dy="4.4">100</text>
<text transform="translate(877.14,310.65) rotate(-26.66)" dy="4.4">100</text>
<text transform="translate(880.38,317.26) rotate(-25.66)" dy="4.4">200</text>
<text transform="translate(883.51,323.93) rotate(-24.66)" dy="4.4">300</text>
<text transform="translate(886.53,330.65) rotate(-23.66)" dy="4.4">400</text>
<text transform="translate(889.42,337.42) rotate(-22.66)" dy="4.4">500</text>
<text transform="translate(892.2,344.24) rotate(-21.66)" dy="4.4">600</text>
<text transform="translate(894.86,351.11) rotate(-20.66)" dy="4.4">700</text>
<text transform="translate(897.4,358.02) rotate(-19.66)" dy="4.4">800</text>
<text transform="translate(899.82,364.98) rotate(-18.66)" dy="4.4">900</text>
<text transform="translate(902.11,371.98) rotate(-17.66)" dy="4.4">1000</text>
<text transform="translate(904.29,379.02) rotate(-16.66)" dy="4.4">1100</text>
<text transform="translate(906.34,386.09) rotate(-15.66)" dy="4.4">1200</text>
<text transform="translate(908.26,393.2) rotate(-14.66)" dy="4.4">1300</text>
<text transform="translate(913.51,415.79) rotate(-11.51)" dy="4.4">100</text>
<text transform="translate(914.92,423.02) rotate(-10.51)" dy="4.4">200</text>
<text transform="translate(916.2,430.28) rotate(-9.51)" dy="4.4">300</text>
<text transform="translate(917.35,437.55) rotate(-8.51)" dy="4.4">400</text>
<text transform="translate(920.3,462.12) rotate(-5.15)" dy="4.4">100</text>
<text transform="translate(920.89,469.46) rotate(-4.15)" dy="4.4">200</text>
<text transform="translate(921.36,476.81) rotate(-3.15)" dy="4.4">300</text>
<text transform="translate(921.7,484.17) rotate(-2.15)" dy="4.4">400</text>
<text transform="translate(921.92,491.53) rotate(-1.15)" dy="4.4">500</text>
<text transform="translate(922,498.9) rotate(-0.15)" dy="4.4">600</text>
<text transform="translate(921.95,506.26) rotate(0.85)" dy="4.4">700</text>
<text transform="translate(921.78,513.62) rotate(1.85)" dy="4.4">800</text>
<text transform="translate(921.48,520.98) rotate(2.85)" dy="4.4">900</text>
<text transform="translate(921.05,528.34) rotate(3.85)" dy="4.4">1000</text>
<text transform="translate(920.49,535.68) rotate(4.85)" dy="4.4">1100</text>
<text transform="translate(918.08,557.42) rotate(7.82)" dy="4.4">100</text>
<text transform="translate(917.01,564.71) rotate(8.82)" dy="4.4">200</text>
<text transform="translate(915.82,571.97) rotate(9.82)" dy="4.4">300</text>
<text transform="translate(914.5,579.22) rotate(10.82)" dy="4.4">400</text>
<text transform="translate(913.05,586.44) rotate(11.82)" dy="4.4">500</text>
<text transform="translate(911.48,593.64) rotate(12.82)" dy="4.4">600</text>
<text transform="translate(909.78,600.8) rotate(13.82)" dy="4.4">700</text>
<text transform="translate(907.96,607.94) rotate(14.82)" dy="4.4">800</text>
<text transform="translate(906.02,615.04) rotate(15.82)" dy="4.4">900</text>
<text transform="translate(903.95,622.11) rotate(16.82)" dy="4.4">1000</text>
<text transform="translate(901.75,629.14) rotate(17.82)" dy="4.4">1100</text>
<text transform="translate(899.44,636.14) rotate(18.82)" dy="4.4">1200</text>
<text transform="translate(897,643.09) rotate(19.82)" dy="4.4">1300</text>
<text transform="translate(889.17,663.19) rotate(22.75)" dy="4.4">100</text>
<text transform="translate(886.26,669.96) rotate(23.75)" dy="4.4">200</text>
<text transform="translate(883.24,676.67) rotate(24.75)" dy="4.4">300</text>
<text transform="translate(880.09,683.34) rotate(25.75)" dy="4.4">400</text>
<text transform="translate(876.84,689.94) rotate(26.75)" dy="4.4">500</text>
<text transform="translate(873.46,696.49) rotate(27.75)" dy="4.4">600</text>
<text transform="translate(869.98,702.98) rotate(28.75)" dy="4.4">700</text>
<text transform="translate(866.38,709.4) rotate(29.75)" dy="4.4">800</text>
<text transform="translate(862.67,715.77) rotate(30.75)" dy="4.4">900</text>
<text transform="translate(858.85,722.06) rotate(31.75)" dy="4.4">1000</text>
<text transform="translate(854.92,728.29) rotate(32.75)" dy="4.4">1100</text>
<text transform="translate(842.79,746.13) rotate(35.68)" dy="4.4">100</text>
<text transform="translate(838.44,752.08) rotate(36.68)" dy="4.4">200</text>
<text transform="translate(833.99,757.95) rotate(37.68)" dy="4.4">300</text>
<text transform="translate(829.43,763.74) rotate(38.68)" dy="4.4">400</text>
<text transform="translate(824.78,769.45) rotate(39.68)" dy="4.4">500</text>
<text transform="translate(808.28,788.18) rotate(43.07)" dy="4.4">100</text>
<text transform="translate(803.2,793.52) rotate(44.07)" dy="4.4">200</text>
<text transform="translate(787.43,808.98) rotate(47.07)" dy="4.4">100</text>
<text transform="translate(781.99,813.95) rotate(48.07)" dy="4.4">200</text>
<text transform="translate(776.47,818.83) rotate(49.07)" dy="4.4">300</text>
<text transform="translate(770.86,823.6) rotate(50.07)" dy="4.4">400</text>
<text transform="translate(765.17,828.28) rotate(51.07)" dy="4.4">500</text>
<text transform="translate(747.75,841.62) rotate(54.05)" dy="4.4">100</text>
<text transform="translate(741.75,845.89) rotate(55.05)" dy="4.4">200</text>
<text transform="translate(735.67,850.06) rotate(56.05)" dy="4.4">300</text>
<text transform="translate(729.53,854.12) rotate(57.05)" dy="4.4">400</text>
<text transform="translate(723.31,858.07) rotate(58.05)" dy="4.4">500</text>
<text transform="translate(717.03,861.91) rotate(59.05)" dy="4.4">600</text>
<text transform="translate(710.68,865.65) rotate(60.05)" dy="4.4">700</text>
<text transform="translate(690.14,876.74) rotate(63.22)" dy="4.4">100</text>
<text transform="translate(683.53,880) rotate(64.22)" dy="4.4">200</text>
<text transform="translate(676.88,883.14) rotate(65.22)" dy="4.4">300</text>
<text transform="translate(670.16,886.17) rotate(66.22)" dy="4.4">400</text>
<text transform="translate(663.4,889.08) rotate(67.22)" dy="4.4">500</text>
<text transform="translate(656.58,891.88) rotate(68.22)" dy="4.4">600</text>
<text transform="translate(649.72,894.55) rotate(69.22)" dy="4.4">700</text>
<text transform="translate(631.88,900.87) rotate(71.79)" dy="4.4">100</text>
<text transform="translate(624.86,903.11) rotate(72.79)" dy="4.4">200</text>
<text transform="translate(617.8,905.22) rotate(73.79)" dy="4.4">300</text>
<text transform="translate(610.71,907.22) rotate(74.79)" dy="4.4">400</text>
<text transform="translate(603.59,909.09) rotate(75.79)" dy="4.4">500</text>
<text transform="translate(596.44,910.83) rotate(76.79)" dy="4.4">600</text>
<text transform="translate(576.03,915.09) rotate(79.62)" dy="4.4">100</text>
<text transform="translate(568.78,916.36) rotate(80.62)" dy="4.4">200</text>
<text transform="translate(561.5,917.49) rotate(81.62)" dy="4.4">300</text>
<text transform="translate(554.21,918.5) rotate(82.62)" dy="4.4">400</text>
<text transform="translate(533.62,920.66) rotate(85.43)" dy="4.4">100</text>
<text transform="translate(526.28,921.18) rotate(86.43)" dy="4.4">200</text>
<text transform="translate(518.92,921.58) rotate(87.43)" dy="4.4">300</text>
<text transform="translate(511.56,921.84) rotate(88.43)" dy="4.4">400</text>
<text transform="translate(504.2,921.98) rotate(89.43)" dy="4.4">500</text>
<text transform="translate(496.83,921.99) rotate(270.43)" dy="4.4" text-anchor="end">600</text>
<text transform="translate(489.47,921.87) rotate(271.43)" dy="4.4" text-anchor="end">700</text>
<text transform="translate(482.11,921.62) rotate(272.43)" dy="4.4" text-anchor="end">800</text>
<text transform="translate(464.1,920.47) rotate(274.88)" dy="4.4" text-anchor="end">100</text>
<text transform="translate(456.77,919.78) rotate(275.88)" dy="4.4" text-anchor="end">200</text>
<text transform="translate(449.45,918.96) rotate(276.88)" dy="4.4" text-anchor="end">300</text>
<text transform="translate(442.14,918.02) rotate(277.88)" dy="4.4" text-anchor="end">400</text>
<text transform="translate(420.42,914.43) rotate(280.87)" dy="4.4" text-anchor="end">100</text>
<text transform="translate(413.2,912.98) rotate(281.87)" dy="4.4" text-anchor="end">200</text>
<text transform="translate(406,911.4) rotate(282.87)" dy="4.4" text-anchor="end">300</text>
<text transform="translate(398.84,909.7) rotate(283.87)" dy="4.4" text-anchor="end">400</text>
<text transform="translate(391.7,907.87) rotate(284.87)" dy="4.4" text-anchor="end">500</text>
<text transform="translate(384.6,905.92) rotate(285.87)" dy="4.4" text-anchor="end">600</text>
<text transform="translate(366.66,900.38) rotate(288.42)" dy="4.4" text-anchor="end">100</text>
<text transform="translate(359.69,897.99) rotate(289.42)" dy="4.4" text-anchor="end">200</text>
<text transform="translate(352.76,895.48) rotate(290.42)" dy="4.4" text-anchor="end">300</text>
<text transform="translate(345.88,892.85) rotate(291.42)" dy="4.4" text-anchor="end">400</text>
<text transform="translate(339.05,890.1) rotate(292.42)" dy="4.4" text-anchor="end">500</text>
<text transform="translate(332.27,887.23) rotate(293.42)" dy="4.4" text-anchor="end">600</text>
<text transform="translate(325.54,884.25) rotate(294.42)" dy="4.4" text-anchor="end">700</text>
<text transform="translate(304.68,874.08) rotate(297.57)" dy="4.4" text-anchor="end">100</text>
<text transform="translate(284.17,862.63) rotate(300.76)" dy="4.4" text-anchor="end">100</text>
<text transform="translate(277.88,858.81) rotate(301.76)" dy="4.4" text-anchor="end">200</text>
<text transform="translate(271.65,854.88) rotate(302.76)" dy="4.4" text-anchor="end">300</text>
<text transform="translate(265.49,850.84) rotate(303.76)" dy="4.4" text-anchor="end">400</text>
<text transform="translate(259.4,846.69) rotate(304.76)" dy="4.4" text-anchor="end">500</text>
<text transform="translate(253.39,842.44) rotate(305.76)" dy="4.4" text-anchor="end">600</text>
<text transform="translate(247.45,838.09) rotate(306.76)" dy="4.4" text-anchor="end">700</text>
<text transform="translate(241.59,833.63) rotate(307.76)" dy="4.4" text-anchor="end">800</text>
<text transform="translate(235.8,829.07) rotate(308.76)" dy="4.4" text-anchor="end">900</text>
<text transform="translate(223.14,818.49) rotate(311)" dy="4.4" text-anchor="end">100</text>
<text transform="translate(217.63,813.61) rotate(312)" dy="4.4" text-anchor="end">200</text>
<text transform="translate(212.2,808.63) rotate(313)" dy="4.4" text-anchor="end">300</text>
<text transform="translate(194.15,790.75) rotate(316.45)" dy="4.4" text-anchor="end">100</text>
<text transform="translate(189.12,785.37) rotate(317.45)" dy="4.4" text-anchor="end">200</text>
<text transform="translate(184.18,779.9) rotate(318.45)" dy="4.4" text-anchor="end">300</text>
<text transform="translate(179.35,774.35) rotate(319.45)" dy="4.4" text-anchor="end">400</text>
<text transform="translate(174.61,768.71) rotate(320.45)" dy="4.4" text-anchor="end">500</text>
<text transform="translate(169.97,762.99) rotate(321.45)" dy="4.4" text-anchor="end">600</text>
<text transform="translate(165.43,757.19) rotate(322.45)" dy="4.4" text-anchor="end">700</text>
<text transform="translate(160.99,751.31) rotate(323.45)" dy="4.4" text-anchor="end">800</text>
<text transform="translate(156.66,745.36) rotate(324.45)" dy="4.4" text-anchor="end">900</text>
<text transform="translate(152.43,739.33) rotate(325.45)" dy="4.4" text-anchor="end">1000</text>
<text transform="translate(138.5,717.72) rotate(328.94)" dy="4.4" text-anchor="end">100</text>
<text transform="translate(134.76,711.38) rotate(329.94)" dy="4.4" text-anchor="end">200</text>
<text transform="translate(131.12,704.98) rotate(330.94)" dy="4.4" text-anchor="end">300</text>
<text transform="translate(121.72,687.04) rotate(333.69)" dy="4.4" text-anchor="end">100</text>
<text transform="translate(118.51,680.41) rotate(334.69)" dy="4.4" text-anchor="end">200</text>
<text transform="translate(115.42,673.73) rotate(335.69)" dy="4.4" text-anchor="end">300</text>
<text transform="translate(112.44,666.99) rotate(336.69)" dy="4.4" text-anchor="end">400</text>
<text transform="translate(109.59,660.2) rotate(337.69)" dy="4.4" text-anchor="end">500</text>
<text transform="translate(106.85,653.36) rotate(338.69)" dy="4.4" text-anchor="end">600</text>
<text transform="translate(104.24,646.48) rotate(339.69)" dy="4.4" text-anchor="end">700</text>
<text transform="translate(101.74,639.55) rotate(340.69)" dy="4.4" text-anchor="end">800</text>
<text transform="translate(99.37,632.57) rotate(341.69)" dy="4.4" text-anchor="end">900</text>
<text transform="translate(93.74,614.19) rotate(344.3)" dy="4.4" text-anchor="end">100</text>
<text transform="translate(91.81,607.09) rotate(345.3)" dy="4.4" text-anchor="end">200</text>
<text transform="translate(90.01,599.95) rotate(346.3)" dy="4.4" text-anchor="end">300</text>
<text transform="translate(88.32,592.78) rotate(347.3)" dy="4.4" text-anchor="end">400</text>
<text transform="translate(86.77,585.58) rotate(348.3)" dy="4.4" text-anchor="end">500</text>
<text transform="translate(85.34,578.35) rotate(349.3)" dy="4.4" text-anchor="end">600</text>
<text transform="translate(84.03,571.1) rotate(350.3)" dy="4.4" text-anchor="end">700</text>
<text transform="translate(82.86,563.83) rotate(351.3)" dy="4.4" text-anchor="end">800</text>
<text transform="translate(81.81,556.54) rotate(352.3)" dy="4.4" text-anchor="end">900</text>
<text transform="translate(80.88,549.24) rotate(353.3)" dy="4.4" text-anchor="end">1000</text>
<text transform="translate(80.09,541.91) rotate(354.3)" dy="4.4" text-anchor="end">1100</text>
<text transform="translate(79.42,534.58) rotate(355.3)" dy="4.4" text-anchor="end">1200</text>
<text transform="translate(78.88,527.23) rotate(356.3)" dy="4.4" text-anchor="end">1300</text>
<text transform="translate(78.47,519.88) rotate(357.3)" dy="4.4" text-anchor="end">1400</text>
<text transform="translate(78.19,512.52) rotate(358.3)" dy="4.4" text-anchor="end">1500</text>
<text transform="translate(78.11,490.43) rotate(361.3)" dy="4.4" text-anchor="end">100</text>
<text transform="translate(78.34,483.06) rotate(362.3)" dy="4.4" text-anchor="end">200</text>
<text transform="translate(78.7,475.71) rotate(363.3)" dy="4.4" text-anchor="end">300</text>
<text transform="translate(79.19,468.36) rotate(364.3)" dy="4.4" text-anchor="end">400</text>
<text transform="translate(79.8,461.02) rotate(365.3)" dy="4.4" text-anchor="end">500</text>
<text transform="translate(83.05,434.93) rotate(368.87)" dy="4.4" text-anchor="end">100</text>
<text transform="translate(84.25,427.66) rotate(369.87)" dy="4.4" text-anchor="end">200</text>
<text transform="translate(85.57,420.42) rotate(370.87)" dy="4.4" text-anchor="end">300</text>
<text transform="translate(87.02,413.2) rotate(371.87)" dy="4.4" text-anchor="end">400</text>
<text transform="translate(88.6,406) rotate(372.87)" dy="4.4" text-anchor="end">500</text>
<text transform="translate(90.3,398.84) rotate(373.87)" dy="4.4" text-anchor="end">600</text>
<text transform="translate(92.13,391.7) rotate(374.87)" dy="4.4" text-anchor="end">700</text>
<text transform="translate(94.08,384.6) rotate(375.87)" dy="4.4" text-anchor="end">800</text>
<text transform="translate(96.16,377.54) rotate(376.87)" dy="4.4" text-anchor="end">900</text>
<text transform="translate(98.36,370.51) rotate(377.87)" dy="4.4" text-anchor="end">1000</text>
<text transform="translate(100.68,363.52) rotate(378.87)" dy="4.4" text-anchor="end">1100</text>
<text transform="translate(103.12,356.57) rotate(379.87)" dy="4.4" text-anchor="end">1200</text>
<text transform="translate(105.69,349.66) rotate(380.87)" dy="4.4" text-anchor="end">1300</text>
<text transform="translate(108.37,342.8) rotate(381.87)" dy="4.4" text-anchor="end">1400</text>
<text transform="translate(111.17,335.99) rotate(382.87)" dy="4.4" text-anchor="end">1500</text>
<text transform="translate(114.1,329.23) rotate(383.87)" dy="4.4" text-anchor="end">1600</text>
<text transform="translate(122.86,310.65) rotate(386.66)" dy="4.4" text-anchor="end">100</text>
<text transform="translate(126.23,304.1) rotate(387.66)" dy="4.4" text-anchor="end">200</text>
<text transform="translate(129.7,297.6) rotate(388.66)" dy="4.4" text-anchor="end">300</text>
<text transform="translate(133.29,291.17) rotate(389.66)" dy="4.4" text-anchor="end">400</text>
<text transform="translate(143.5,274.19) rotate(392.35)" dy="4.4" text-anchor="end">100</text>
<text transform="translate(147.49,268) rotate(393.35)" dy="4.4" text-anchor="end">200</text>
<text transform="translate(151.59,261.89) rotate(394.35)" dy="4.4" text-anchor="end">300</text>
<text transform="translate(155.8,255.84) rotate(395.35)" dy="4.4" text-anchor="end">400</text>
<text transform="translate(160.12,249.87) rotate(396.35)" dy="4.4" text-anchor="end">500</text>
<text transform="translate(164.53,243.98) rotate(397.35)" dy="4.4" text-anchor="end">600</text>
<text transform="translate(169.05,238.16) rotate(398.35)" dy="4.4" text-anchor="end">700</text>
<text transform="translate(173.67,232.43) rotate(399.35)" dy="4.4" text-anchor="end">800</text>
<text transform="translate(178.39,226.77) rotate(400.35)" dy="4.4" text-anchor="end">900</text>
<text transform="translate(183.21,221.2) rotate(401.35)" dy="4.4" text-anchor="end">1000</text>
<text transform="translate(188.12,215.72) rotate(402.35)" dy="4.4" text-anchor="end">1100</text>
<text transform="translate(193.13,210.32) rotate(403.35)" dy="4.4" text-anchor="end">1200</text>
<text transform="translate(198.23,205.01) rotate(404.35)" dy="4.4" text-anchor="end">1300</text>
<text transform="translate(203.43,199.78) rotate(405.35)" dy="4.4" text-anchor="end">1400</text>
<text transform="translate(208.71,194.65) rotate(406.35)" dy="4.4" text-anchor="end">1500</text>
<text transform="translate(214.09,189.62) rotate(407.35)" dy="4.4" text-anchor="end">1600</text>
<text transform="translate(219.55,184.67) rotate(408.35)" dy="4.4" text-anchor="end">1700</text>
<text transform="translate(225.09,179.83) rotate(409.35)" dy="4.4" text-anchor="end">1800</text>
<text transform="translate(230.72,175.08) rotate(410.35)" dy="4.4" text-anchor="end">1900</text>
<text transform="translate(236.44,170.43) rotate(411.35)" dy="4.4" text-anchor="end">2000</text>
<text transform="translate(242.23,165.88) rotate(412.35)" dy="4.4" text-anchor="end">2100</text>
<text transform="translate(248.1,161.43) rotate(413.35)" dy="4.4" text-anchor="end">2200</text>
<text transform="translate(254.04,157.09) rotate(414.35)" dy="4.4" text-anchor="end">2300</text>
<text transform="translate(260.07,152.85) rotate(415.35)" dy="4.4" text-anchor="end">2400</text>
<text transform="translate(266.16,148.71) rotate(416.35)" dy="4.4" text-anchor="end">2500</text>
<text transform="translate(287.09,135.65) rotate(419.7)" dy="4.4" text-anchor="end">100</text>
<text transform="translate(293.48,131.99) rotate(420.7)" dy="4.4" text-anchor="end">200</text>
<text transform="translate(299.93,128.44) rotate(421.7)" dy="4.4" text-anchor="end">300</text>
<text transform="translate(306.45,125) rotate(422.7)" dy="4.4" text-anchor="end">400</text>
<text transform="translate(328.02,114.63) rotate(425.95)" dy="4.4" text-anchor="end">100</text>
<text transform="translate(334.77,111.69) rotate(426.95)" dy="4.4" text-anchor="end">200</text>
<text transform="translate(358.44,102.45) rotate(430.4)" dy="4.4" text-anchor="end">100</text>
<text transform="translate(365.4,100.04) rotate(431.4)" dy="4.4" text-anchor="end">200</text>
<text transform="translate(372.4,97.75) rotate(432.4)" dy="4.4" text-anchor="end">300</text>
<text transform="translate(379.44,95.59) rotate(433.4)" dy="4.4" text-anchor="end">400</text>
<text transform="translate(386.52,93.55) rotate(434.4)" dy="4.4" text-anchor="end">500</text>
<text transform="translate(393.63,91.63) rotate(435.4)" dy="4.4" text-anchor="end">600</text>
<text transform="translate(400.77,89.83) rotate(436.4)" dy="4.4" text-anchor="end">700</text>
<text transform="translate(407.94,88.16) rotate(437.4)" dy="4.4" text-anchor="end">800</text>
<text transform="translate(415.15,86.62) rotate(438.4)" dy="4.4" text-anchor="end">900</text>
<text transform="translate(422.37,85.2) rotate(439.4)" dy="4.4" text-anchor="end">1000</text>
<text transform="translate(429.62,83.91) rotate(440.4)" dy="4.4" text-anchor="end">1100</text>
<text transform="translate(436.9,82.74) rotate(441.4)" dy="4.4" text-anchor="end">1200</text>
<text transform="translate(444.19,81.71) rotate(442.4)" dy="4.4" text-anchor="end">1300</text>
<text transform="translate(451.5,80.8) rotate(443.4)" dy="4.4" text-anchor="end">1400</text>
<text transform="translate(458.82,80.01) rotate(444.4)" dy="4.4" text-anchor="end">1500</text>
<text transform="translate(466.16,79.36) rotate(445.4)" dy="4.4" text-anchor="end">1600</text>
<text transform="translate(473.5,78.83) rotate(446.4)" dy="4.4" text-anchor="end">1700</text>
<text transform="translate(480.86,78.43) rotate(447.4)" dy="4.4" text-anchor="end">1800</text>
<text transform="translate(488.22,78.16) rotate(448.4)" dy="4.4" text-anchor="end">1900</text></g>
<defs><path id="n0" d="M210.71,143.64 A459,459 0 0 1 800.71,153.22"/><path id="n1" d="M279.54,97.41 A459,459 0 0 1 858.19,212.98"/><path id="n2" d="M372.98,58.92 A459,459 0 0 1 912.32,298.32"/><path id="n3" d="M463.19,42.48 A459,459 0 0 1 944.18,384.3"/><path id="n4" d="M541.28,42.86 A459,459 0 0 1 957.36,461.27"/><path id="n5" d="M591.82,50.28 A459,459 0 0 1 958.83,512.34"/><path id="n6" d="M639.7,62.78 A459,459 0 0 1 954.84,561.66"/><path id="n7" d="M658.68,69.3 A459,459 0 0 1 951.71,581.48"/><path id="n8" d="M723.26,98.96 A459,459 0 0 1 933.72,650.23"/><path id="n9" d="M794.21,147.69 A459,459 0 0 1 898.05,728.56"/><path id="n10" d="M848.87,201.72 A459,459 0 0 1 854.33,791.77"/><path id="n11" d="M777.25,874.55 A466,466 0 0 0 917,292"/><path id="n12" d="M679.01,930.25 A466,466 0 0 0 954.79,398.42"/><path id="n13" d="M600.3,955.08 A466,466 0 0 0 965.58,480.24"/><path id="n14" d="M554.29,962.83 A466,466 0 0 0 965.22,526.91"/><path id="n15" d="M510.53,965.88 A466,466 0 0 0 960.63,570.53"/><path id="n16" d="M444.62,962.7 A466,466 0 0 0 946.05,634.88"/><path id="n17" d="M374.14,948.68 A466,466 0 0 0 920.01,701.87"/><path id="n18" d="M310.91,925.91 A466,466 0 0 0 886.6,760.18"/><path id="n19" d="M261.35,900.25 A466,466 0 0 0 852.73,804.52"/><path id="n20" d="M210.29,865 A466,466 0 0 0 809.15,848.69"/><path id="n21" d="M164.08,822.98 A466,466 0 0 0 759.74,886.9"/><path id="n22" d="M128.08,780.77 A466,466 0 0 0 711.92,915.02"/><path id="n23" d="M92.17,725.46 A466,466 0 0 0 651.21,940.78"/><path id="n24" d="M69.8,679.12 A466,466 0 0 0 601.69,954.77"/><path id="n25" d="M51.43,626.26 A466,466 0 0 0 546.44,963.68"/><path id="n26" d="M38.62,565.46 A466,466 0 0 0 484.35,965.74"/><path id="n27" d="M34.05,493.01 A466,466 0 0 0 412.2,957.65"/><path id="n28" d="M40.4,423.05 A466,466 0 0 0 344.41,939.26"/><path id="n29" d="M54.78,362.39 A466,466 0 0 0 287.17,914.56"/><path id="n30" d="M100.52,260.06 A466,466 0 0 0 194.34,851.75"/><path id="n31" d="M132.13,774.5 A459,459 0 0 1 165.79,185.38"/><path id="n32" d="M80.99,687.39 A459,459 0 0 1 242.7,119.9"/><path id="n33" d="M51.68,598.45 A459,459 0 0 1 325.2,75.59"/><path id="n34" d="M42.28,465.78 A459,459 0 0 1 454.21,43.29"/><path id="n35" d="M71.77,334.76 A459,459 0 0 1 588.37,49.59"/><path id="n36" d="M89.14,295.37 A459,459 0 0 1 630.17,59.84"/><path id="n37" d="M142.64,211.95 A459,459 0 0 1 721.62,98.05"/></defs><g font-size="11.3" fill="#444" letter-spacing="-0.5"><text><textPath href="#n0" startOffset="50%" text-anchor="middle">PRFC0100014</textPath></text>
<text><textPath href="#n1" startOffset="50%" text-anchor="middle">TcDm25 _Chr31 _H1</textPath></text>
<text><textPath href="#n2" startOffset="50%" text-anchor="middle">TcDm25 _Chr31 _H2</textPath></text>
<text><textPath href="#n3" startOffset="50%" text-anchor="middle">TcDm25 _Chr07 _H1</textPath></text>
<text><textPath href="#n4" startOffset="50%" text-anchor="middle">TcDm25 _Chr07 _H2</textPath></text>
<text><textPath href="#n5" startOffset="50%" text-anchor="middle">TcDm25 _Chr01 _H2</textPath></text>
<text><textPath href="#n6" startOffset="50%" text-anchor="middle">TcDm25 _Chr02 _H1</textPath></text>
<text><textPath href="#n7" startOffset="50%" text-anchor="middle">TcDm25 _Chr03 _H2</textPath></text>
<text><textPath href="#n8" startOffset="50%" text-anchor="middle">TcDm25 _Chr05 _H1</textPath></text>
<text><textPath href="#n9" startOffset="50%" text-anchor="middle">TcDm25 _Chr22 _H2</textPath></text>
<text><textPath href="#n10" startOffset="50%" text-anchor="middle">TcDm25 _Chr10 _H1</textPath></text>
<text><textPath href="#n11" startOffset="50%" text-anchor="middle">TcDm25 _Chr09 _H1</textPath></text>
<text><textPath href="#n12" startOffset="50%" text-anchor="middle">TcDm25 _Chr12 _H1</textPath></text>
<text><textPath href="#n13" startOffset="50%" text-anchor="middle">TcDm25 _Chr30 _H1</textPath></text>
<text><textPath href="#n14" startOffset="50%" text-anchor="middle">TcDm25 _Chr30 _H2</textPath></text>
<text><textPath href="#n15" startOffset="50%" text-anchor="middle">TcDm25 _Chr13 _H1</textPath></text>
<text><textPath href="#n16" startOffset="50%" text-anchor="middle">TcDm25 _Chr15 _H2</textPath></text>
<text><textPath href="#n17" startOffset="50%" text-anchor="middle">TcDm25 _Chr15 _H1</textPath></text>
<text><textPath href="#n18" startOffset="50%" text-anchor="middle">TcDm25 _Chr25 _c2</textPath></text>
<text><textPath href="#n19" startOffset="50%" text-anchor="middle">TcDm25 _Chr07 _H2</textPath></text>
<text><textPath href="#n20" startOffset="50%" text-anchor="middle">TcDm25 _Chr20 _H1</textPath></text>
<text><textPath href="#n21" startOffset="50%" text-anchor="middle">TcDm25 _Chr20</textPath></text>
<text><textPath href="#n22" startOffset="50%" text-anchor="middle">TcDm25 _Chr23 _H1</textPath></text>
<text><textPath href="#n23" startOffset="50%" text-anchor="middle">TcDm25 _Chr23 _H2 _c1</textPath></text>
<text><textPath href="#n24" startOffset="50%" text-anchor="middle">TcDm25 _Chr21 _H1</textPath></text>
<text><textPath href="#n25" startOffset="50%" text-anchor="middle">TcDm25 _Chr21 _c1</textPath></text>
<text><textPath href="#n26" startOffset="50%" text-anchor="middle">TcDm25 _Chr18 _H1</textPath></text>
<text><textPath href="#n27" startOffset="50%" text-anchor="middle">TcDm25 _Chr16 _c3</textPath></text>
<text><textPath href="#n28" startOffset="50%" text-anchor="middle">TcDm25 _Chr16 _c1</textPath></text>
<text><textPath href="#n29" startOffset="50%" text-anchor="middle">TcDm25 _Chr04 _H2</textPath></text>
<text><textPath href="#n30" startOffset="50%" text-anchor="middle">TcDm25 _Chr06 _H2 _c3</textPath></text>
<text><textPath href="#n31" startOffset="50%" text-anchor="middle">TcDm25 _Chr28 _H1</textPath></text>
<text><textPath href="#n32" startOffset="50%" text-anchor="middle">TcDm25 _Chr06 _H1</textPath></text>
<text><textPath href="#n33" startOffset="50%" text-anchor="middle">TcDm25 _Chr32 _H2 _c4</textPath></text>
<text><textPath href="#n34" startOffset="50%" text-anchor="middle">TcDm25 _Chr30 _H2 _c1</textPath></text>
<text><textPath href="#n35" startOffset="50%" text-anchor="middle">TcDm25 _Chr?? _H2 _c6</textPath></text>
<text><textPath href="#n36" startOffset="50%" text-anchor="middle">TcDm25 _Chr28 _H2</textPath></text>
<text><textPath href="#n37" startOffset="50%" text-anchor="middle">TcDm25 _Chr02 _H2 _c1</textPath></text></g>
</svg></body></html>
